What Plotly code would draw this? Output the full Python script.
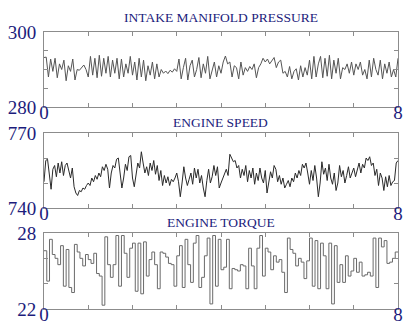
import numpy as np
import plotly.graph_objects as go

titles = ["INTAKE MANIFOLD PRESSURE", "ENGINE SPEED", "ENGINE TORQUE"]

pressure = [
    293.2, 293.3, 288.0, 292.8, 289.5, 293.0, 287.8, 291.5, 290.0, 292.5,
    287.0, 291.0, 289.5, 292.8, 287.2, 290.0, 289.8, 290.6, 291.2, 290.0,
    288.0, 293.5, 288.5, 293.0, 287.8, 293.8, 288.2, 293.0, 289.0, 293.5,
    288.0, 292.5, 289.0, 293.0, 287.5, 292.8, 288.0, 291.5, 289.0, 293.5,
    288.5, 292.0, 287.2, 293.0, 288.0, 292.5, 287.0, 291.0, 288.5, 292.0,
    287.5, 291.5, 288.0, 290.0, 289.0, 289.6, 288.9, 289.8, 289.3, 290.2,
    289.5, 292.8, 287.5, 290.5, 293.0, 287.2, 291.0, 292.5, 288.0, 290.0,
    293.2, 287.8, 291.5, 289.0, 293.5, 287.5, 290.0, 292.0, 288.0, 291.0,
    289.0, 292.0, 293.6, 291.5, 292.0, 288.0, 291.0, 290.5, 287.5, 292.0,
    288.5, 290.5, 289.5, 290.8, 290.0, 291.5, 287.8, 290.5, 291.5, 293.0,
    292.0, 292.8, 291.5, 292.5, 293.2, 290.5, 292.0, 292.5, 289.0, 289.5,
    288.0, 290.8, 287.5, 289.5, 290.2, 287.2, 291.0, 288.0, 290.5, 288.5,
    292.5, 287.5, 293.5, 288.0, 291.5, 293.5, 287.8, 293.0, 288.2, 293.8,
    287.5, 292.5, 289.0, 293.0, 287.5, 290.5, 290.0, 291.5, 289.0, 292.0,
    288.5, 291.5, 290.0, 292.0, 288.5, 290.0, 287.5, 292.5, 288.0, 293.0,
    290.0, 288.5, 292.5, 287.5, 291.5, 289.0, 292.0, 288.0, 290.0, 288.0,
    293.0,
]

speed = [
    750.5, 759.0, 759.5, 752.0, 747.5, 755.5, 757.0, 752.5, 758.0, 754.0, 758.5, 753.0, 757.0, 758.0, 754.5, 752.0, 756.0, 748.5, 746.0, 745.0, 747.0, 746.5, 748.0, 747.5, 749.0,
    750.0, 749.0, 752.0, 750.5, 753.0, 751.5, 754.0, 752.5, 756.5, 755.0, 757.5, 755.5, 748.0, 754.0, 757.0, 756.0, 759.5, 760.0, 753.0, 748.0, 752.0, 757.5, 755.0, 760.5, 761.0,
    752.0, 748.5, 754.0, 758.0, 756.0, 762.5, 758.0, 754.0, 756.5, 753.0, 758.0, 755.0, 759.0, 753.5, 757.0, 751.0, 755.0, 749.0, 753.0, 750.0, 752.5, 749.0, 751.5, 750.5, 752.0,
    754.0, 750.5, 744.5, 750.0, 756.5, 752.0, 749.0, 751.5, 754.0, 749.5, 756.0, 752.0, 755.5, 750.0, 753.0, 748.0, 744.5, 751.0, 755.5, 750.0, 752.5, 757.0, 753.0, 756.5, 748.0,
    750.0, 752.0, 754.0, 755.5, 753.0, 761.5, 760.0, 758.5, 759.0, 756.0, 757.0, 752.0, 755.5, 753.0, 757.0, 750.5, 755.0, 752.0, 756.0, 749.5, 754.0, 751.0, 756.0, 752.0, 750.0,
    755.0, 746.0, 751.0, 754.5, 752.0, 757.0, 755.5, 750.5, 753.0, 749.5, 752.0, 748.0, 749.5, 751.0, 748.5, 752.0, 750.5, 754.0, 752.0, 755.0, 753.0, 757.5, 756.0, 758.0, 754.0,
    749.5, 755.0, 751.0, 757.0, 752.0, 744.5, 750.0, 758.5, 753.5, 756.0, 751.0, 757.5, 752.0, 749.5, 754.0, 747.0, 750.0, 757.0, 752.5, 755.0, 750.0, 753.0, 756.5, 752.0, 754.0,
    756.0, 752.5, 755.5, 758.0, 754.0, 757.5, 756.0, 760.0, 759.0, 760.5, 757.0, 758.0, 753.0, 755.5, 749.0, 754.0, 752.0, 747.0, 752.5, 748.5, 753.0, 749.0, 750.5, 751.0, 758.0,
    759.0,
]

torque = [
    26.6, 24.2, 27.5, 26.3, 26.0, 25.5, 27.0, 23.8, 26.7, 23.7, 23.3, 27.1, 26.5, 26.0, 25.4, 26.3,
    25.9, 25.6, 26.4, 24.8, 24.6, 22.3, 27.7, 25.5, 24.5, 25.5, 27.8, 23.8, 27.8, 26.4, 24.5, 26.8,
    27.2, 23.4, 27.2, 23.2, 27.3, 24.6, 25.9, 26.5, 25.5, 23.6, 26.5, 26.4, 26.1, 25.6, 25.5, 23.8,
    26.2, 27.0, 23.7, 27.5, 25.5, 24.1, 27.2, 27.8, 23.7, 24.5, 26.2, 27.6, 22.4, 27.8, 23.8, 27.5,
    25.1, 25.3, 27.5, 23.6, 25.2, 25.1, 25.0, 25.5, 25.4, 23.6, 26.8, 25.4, 23.6, 26.8, 27.8, 24.6,
    26.8, 26.5, 25.1, 26.2, 25.7, 25.9, 24.9, 23.3, 27.6, 26.7, 26.4, 25.4, 26.0, 25.7, 24.4, 25.8,
    27.6, 23.8, 27.4, 23.6, 27.2, 26.2, 23.6, 27.2, 22.4, 27.0, 24.1, 25.5, 24.1, 26.2, 24.6, 25.0,
    26.0, 24.9, 25.7, 24.6, 24.7, 24.9, 24.6, 27.6, 23.7, 27.6, 26.9, 27.4, 25.6, 25.7, 26.0, 26.5,
    26.5,
]

y_ranges = [[280, 300], [740, 770], [22, 28]]
y_ticks = [[280, 285, 290, 295, 300], [740, 750, 760, 770], [22, 24, 26, 28]]
x_range = [0, 8]
x_ticks = [0, 1, 2, 3, 4, 5, 6, 7, 8]

series = [pressure, speed, torque]
line_colors = ["#555555", "#2a2a2a", "#6a6a6a"]
shapes_ = ["linear", "linear", "hv"]

W, H = 403, 324
x_dom = [44 / W, 398 / W]
panels_px = [(32, 107), (133, 208), (233, 309)]
title_y_px = [17, 122, 223]

navy = "#1c1c7c"
frame = "#8c8c8c"
tick_font = dict(family="Liberation Serif, Times New Roman, serif", size=19, color=navy)

fig = go.Figure()
for i, (vals, col, shp) in enumerate(zip(series, line_colors, shapes_)):
    n = len(vals)
    t = np.linspace(x_range[0], x_range[1], n)
    suffix = "" if i == 0 else str(i + 1)
    fig.add_trace(go.Scatter(
        x=t, y=vals, mode="lines",
        line=dict(color=col, width=1, shape=shp),
        xaxis="x" + suffix, yaxis="y" + suffix, showlegend=False,
        hoverinfo="skip",
    ))
    top, bot = panels_px[i]
    ydom = [1 - bot / H, 1 - top / H]
    yt = y_ticks[i]
    ytext = [str(v) if v in (y_ranges[i][0], y_ranges[i][1]) else "" for v in yt]
    xtext = [str(v) if v in (x_range[0], x_range[1]) else "" for v in x_ticks]
    fig.layout["xaxis" + suffix] = dict(
        domain=x_dom, range=x_range, anchor="y" + suffix,
        tickvals=x_ticks, ticktext=xtext, ticks="inside", ticklen=4,
        tickcolor=frame, showline=True, linecolor=frame, linewidth=1,
        mirror="ticks", showgrid=False, zeroline=False, tickfont=tick_font,
        automargin=False, ticklabelstandoff=-12,
    )
    fig.layout["yaxis" + suffix] = dict(
        domain=ydom, range=y_ranges[i], anchor="x" + suffix,
        tickvals=yt, ticktext=ytext, ticks="inside", ticklen=4,
        tickcolor=frame, showline=True, linecolor=frame, linewidth=1,
        mirror="ticks", showgrid=False, zeroline=False, tickfont=tick_font,
        automargin=False, ticklabelstandoff=3,
    )
    fig.add_annotation(
        text=titles[i], x=(x_dom[0] + x_dom[1]) / 2, y=1 - title_y_px[i] / H,
        xref="paper", yref="paper", showarrow=False, xanchor="center", yanchor="middle",
        font=dict(family="Liberation Serif, Times New Roman, serif", size=13.5, color=navy),
    )

fig.update_layout(
    width=W, height=H, margin=dict(l=0, r=0, t=0, b=0),
    paper_bgcolor="white", plot_bgcolor="white",
)
fig.write_html("out.html", config={"displayModeBar": False},
               post_script="document.body.style.margin='0px';")
